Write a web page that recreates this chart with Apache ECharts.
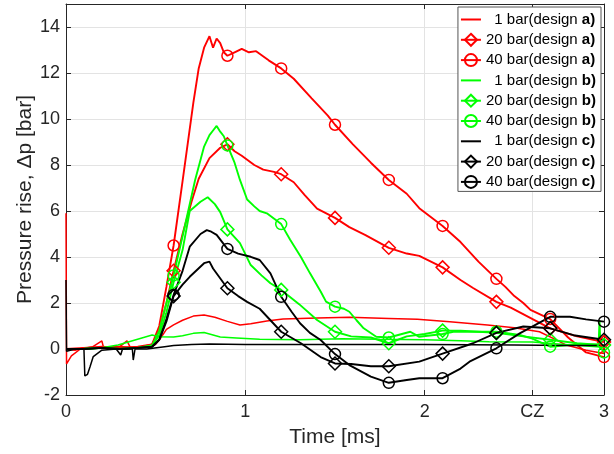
<!DOCTYPE html>
<html>
<head>
<meta charset="utf-8">
<script src="https://cdn.jsdelivr.net/npm/echarts@6/dist/echarts.min.js"></script>
<style>html,body{margin:0;padding:0;background:#fff}#c{width:614px;height:454px}</style>
</head>
<body>
<div id="c"></div>
<script>
// ---- data (time in ms, pressure rise in bar) ----
const markerTimes = [0.6, 0.9, 1.2, 1.5, 1.8, 2.1, 2.4, 2.7, 3.0];
const xTickValues = [0, 1, 2, 2.6, 3];
const xTickLabels = ['0', '1', '2', 'CZ', '3'];
const yTickValues = [-2, 0, 2, 4, 6, 8, 10, 12, 14];

const seriesNames = [
  '1 bar(design a)', '20 bar(design a)', '40 bar(design a)',
  '1 bar(design b)', '20 bar(design b)', '40 bar(design b)',
  '1 bar(design c)', '20 bar(design c)', '40 bar(design c)'
];

const a1 = [[0,5.9],[0.003,-0.65],[0.03,-0.3],[0.08,0.0],[0.15,0.1],[0.2,0.35],[0.21,0.05],[0.3,0.1],[0.34,0.35],[0.36,0.05],[0.45,0.1],[0.5,0.2],[0.53,0.5],[0.56,0.85],[0.6,1.05],[0.65,1.25],[0.71,1.43],[0.77,1.48],[0.83,1.38],[0.9,1.2],[0.97,1.04],[1.03,1.1],[1.12,1.22],[1.21,1.3],[1.4,1.35],[1.58,1.38],[1.8,1.33],[1.96,1.29],[2.14,1.19],[2.35,1.04],[2.5,0.92],[2.64,0.75],[2.72,0.45],[2.79,0.17],[2.9,-0.05],[3.0,-0.2]];
const a20 = [[0,0],[0.1,0.05],[0.2,0.05],[0.3,0.1],[0.4,0.05],[0.48,0.2],[0.52,0.8],[0.56,2.0],[0.6,3.4],[0.65,5.0],[0.7,6.4],[0.74,7.4],[0.8,8.3],[0.86,8.75],[0.9,8.9],[0.94,8.6],[0.98,8.4],[1.05,8.0],[1.1,7.8],[1.16,7.7],[1.2,7.6],[1.27,7.25],[1.33,6.7],[1.4,6.1],[1.5,5.7],[1.58,5.3],[1.67,4.95],[1.8,4.4],[1.9,4.15],[1.97,4.05],[2.1,3.55],[2.2,3.0],[2.27,2.65],[2.4,2.05],[2.48,1.8],[2.7,0.9],[2.85,0.55],[3.0,0.3]];
const a40 = [[0,0],[0.05,-0.05],[0.1,0.05],[0.2,0.1],[0.3,0.05],[0.4,0.1],[0.48,0.2],[0.52,1.0],[0.56,2.7],[0.6,4.5],[0.65,7.3],[0.71,10.7],[0.74,12.2],[0.77,13.1],[0.8,13.6],[0.82,13.1],[0.84,13.5],[0.86,13.3],[0.88,12.9],[0.9,12.75],[0.94,12.9],[0.98,13.05],[1.02,12.9],[1.06,12.95],[1.13,12.55],[1.2,12.2],[1.27,11.75],[1.37,10.9],[1.46,10.15],[1.5,9.75],[1.6,8.9],[1.7,8.1],[1.8,7.35],[1.9,6.75],[1.97,6.12],[2.1,5.35],[2.2,4.65],[2.3,3.8],[2.4,3.05],[2.45,2.7],[2.5,2.3],[2.55,2.0],[2.59,1.7],[2.7,1.3],[2.8,0.5],[2.9,-0.15],[3.0,-0.35]];

const b1 = [[0,0.0],[0.1,0.02],[0.2,0.05],[0.29,0.17],[0.48,0.61],[0.52,0.53],[0.6,0.52],[0.65,0.58],[0.71,0.68],[0.77,0.72],[0.86,0.52],[0.95,0.48],[1.08,0.42],[1.3,0.4],[1.54,0.45],[1.75,0.42],[2.0,0.4],[2.2,0.36],[2.36,0.32],[2.6,0.3],[2.8,0.18],[3.0,0.08]];
const b20 = [[0,0],[0.1,0.0],[0.2,0.05],[0.3,0.0],[0.4,0.05],[0.48,0.15],[0.52,0.6],[0.56,1.6],[0.6,2.9],[0.65,4.3],[0.69,6.0],[0.75,6.4],[0.79,6.6],[0.83,6.3],[0.86,5.95],[0.9,5.2],[0.97,4.6],[1.03,3.65],[1.09,3.2],[1.14,2.86],[1.2,2.57],[1.3,1.95],[1.4,1.26],[1.5,0.75],[1.59,0.55],[1.7,0.5],[1.8,0.25],[1.9,0.55],[2.0,0.65],[2.1,0.8],[2.2,0.8],[2.3,0.75],[2.4,0.7],[2.55,0.55],[2.7,0.4],[2.85,0.25],[3.0,0.17]];
const b40 = [[0,0],[0.1,0.0],[0.2,0.05],[0.3,0.0],[0.4,0.05],[0.48,0.15],[0.52,0.8],[0.56,2.0],[0.6,3.2],[0.65,4.9],[0.72,7.35],[0.77,8.8],[0.8,9.3],[0.82,9.5],[0.84,9.7],[0.86,9.45],[0.88,9.25],[0.9,8.85],[0.94,8.1],[0.97,7.35],[1.01,6.5],[1.05,6.2],[1.08,6.0],[1.12,5.9],[1.2,5.43],[1.25,4.75],[1.31,4.0],[1.36,3.3],[1.42,2.5],[1.45,2.06],[1.5,1.84],[1.55,1.75],[1.58,1.62],[1.62,1.25],[1.66,0.9],[1.73,0.53],[1.8,0.5],[1.92,0.75],[1.97,0.53],[2.1,0.65],[2.16,0.75],[2.3,0.75],[2.4,0.75],[2.53,0.61],[2.6,0.45],[2.7,0.1],[2.85,0.2],[2.97,0.2],[2.975,1.25],[2.98,0.1],[3.0,-0.15]];

const c1 = [[0,3.0],[0.003,-0.1],[0.05,0.0],[0.1,0.0],[0.105,-1.17],[0.12,-1.1],[0.134,-0.77],[0.152,-0.33],[0.2,-0.05],[0.28,0.0],[0.305,-0.26],[0.315,0.0],[0.37,0.0],[0.375,-0.48],[0.385,0.0],[0.45,0.0],[0.55,0.1],[0.6,0.15],[0.7,0.2],[0.8,0.22],[1.0,0.2],[1.5,0.2],[2.0,0.2],[2.5,0.17],[2.8,0.15],[3.0,0.15]];
const c20 = [[0,0],[0.1,0.0],[0.2,0.05],[0.3,0.0],[0.4,0.05],[0.48,0.1],[0.52,0.4],[0.56,1.2],[0.6,2.3],[0.65,2.8],[0.69,3.14],[0.77,3.73],[0.8,3.8],[0.82,3.5],[0.9,2.64],[0.96,2.3],[1.01,2.05],[1.08,1.75],[1.2,0.75],[1.31,0.25],[1.42,-0.35],[1.5,-0.63],[1.59,-0.65],[1.7,-0.75],[1.8,-0.75],[1.97,-0.55],[2.1,-0.2],[2.27,0.25],[2.4,0.7],[2.55,0.98],[2.7,0.9],[2.83,0.6],[3.0,0.4]];
const c40 = [[0,0],[0.1,0.0],[0.2,0.05],[0.3,0.0],[0.4,0.05],[0.48,0.1],[0.52,0.4],[0.56,1.3],[0.6,2.35],[0.65,3.4],[0.69,4.45],[0.75,5.0],[0.785,5.17],[0.81,5.1],[0.84,4.96],[0.9,4.35],[0.96,4.15],[1.03,4.01],[1.08,3.87],[1.14,3.29],[1.2,2.27],[1.26,1.6],[1.305,1.12],[1.36,0.7],[1.42,0.39],[1.5,-0.22],[1.58,-0.7],[1.7,-1.2],[1.8,-1.47],[1.9,-1.35],[1.97,-1.27],[2.1,-1.27],[2.2,-0.85],[2.25,-0.55],[2.4,0.03],[2.53,0.68],[2.7,1.4],[2.81,1.4],[2.9,1.29],[3.0,1.19]];

const seriesData = [a1, a20, a40, b1, b20, b40, c1, c20, c40];
const seriesColors = ['#ff0000','#ff0000','#ff0000','#00ff00','#00ff00','#00ff00','#000000','#000000','#000000'];
const seriesSymbols = ['none','diamond','circle','none','diamond','circle','none','diamond','circle'];

// ---- chart ----
const FONT = 'Liberation Sans, Arial, Helvetica, sans-serif';
const AX = '#262626';

function isMarker(t) { return markerTimes.some(m => Math.abs(m - t) < 1e-9); }

const series = seriesData.map((arr, i) => {
  const sym = seriesSymbols[i];
  const col = seriesColors[i];
  const hasSym = sym !== 'none';
  return {
    name: seriesNames[i],
    type: 'line',
    xAxisIndex: 0, yAxisIndex: 0,
    symbol: sym,
    symbolSize: sym === 'diamond' ? 13 : 11,
    showSymbol: hasSym,
    showAllSymbol: true,
    animation: false,
    lineStyle: { color: col, width: hasSym ? 1.9 : 1.5 },
    itemStyle: hasSym
      ? { color: 'rgba(0,0,0,0)', borderColor: col, borderWidth: 1.5 }
      : { color: 'rgba(0,0,0,0)', borderColor: 'rgba(0,0,0,0)', borderWidth: 0 },
    emphasis: { disabled: true },
    data: arr.map(p => (hasSym && isMarker(p[0])) ? { value: p } : { value: p, symbol: 'none' })
  };
});

const chart = echarts.init(document.getElementById('c'), null, { renderer: 'canvas' });
chart.setOption({
  animation: false,
  backgroundColor: '#ffffff',
  grid: { left: 66, right: 10, top: 4, bottom: 59, containLabel: false },
  xAxis: [{
    type: 'value', min: 0, max: 3, position: 'bottom',
    name: 'Time [ms]', nameLocation: 'middle', nameGap: 32, nameMoveOverlap: false,
    nameTextStyle: { fontFamily: FONT, fontSize: 21, color: AX },
    axisLine: { show: true, onZero: false, lineStyle: { color: AX, width: 1 } },
    axisTick: { show: true, inside: true, length: 5, customValues: xTickValues, lineStyle: { color: AX } },
    axisLabel: { customValues: xTickValues, margin: 8, fontFamily: FONT, fontSize: 18, color: AX,
      formatter: v => { const k = xTickValues.findIndex(x => Math.abs(x - v) < 1e-9); return k >= 0 ? xTickLabels[k] : ''; } },
    splitLine: { show: true, lineStyle: { color: '#e3e3e3', width: 1 } }
  }, {
    type: 'value', min: 0, max: 3, position: 'top',
    axisLine: { show: true, onZero: false, lineStyle: { color: AX, width: 1 } },
    axisTick: { show: true, inside: true, length: 5, customValues: xTickValues, lineStyle: { color: AX } },
    axisLabel: { show: false, customValues: xTickValues },
    splitLine: { show: false }
  }],
  yAxis: [{
    type: 'value', min: -2, max: 15, position: 'left',
    name: 'Pressure rise, \u0394p [bar]', nameLocation: 'middle', nameGap: 30, nameMoveOverlap: false,
    nameTextStyle: { fontFamily: FONT, fontSize: 21, color: AX },
    axisLine: { show: true, onZero: false, lineStyle: { color: AX, width: 1 } },
    axisTick: { show: true, inside: true, length: 5, customValues: yTickValues, lineStyle: { color: AX } },
    axisLabel: { customValues: yTickValues, margin: 6, fontFamily: FONT, fontSize: 18, color: AX },
    splitLine: { show: true, lineStyle: { color: '#e3e3e3', width: 1 } }
  }, {
    type: 'value', min: -2, max: 15, position: 'right',
    axisLine: { show: true, onZero: false, lineStyle: { color: AX, width: 1 } },
    axisTick: { show: true, inside: true, length: 5, customValues: yTickValues, lineStyle: { color: AX } },
    axisLabel: { show: false, customValues: yTickValues },
    splitLine: { show: false }
  }],
  legend: {
    orient: 'vertical', right: 13, top: 7,
    backgroundColor: '#ffffff', borderColor: '#555555', borderWidth: 1,
    padding: [5, 5, 2, 2],
    itemWidth: 20, itemHeight: 15, itemGap: 5.3,
    align: 'left',
    selectedMode: false,
    data: seriesNames,
    formatter: name => {
      const m = name.match(/^(.*design )(\S\))$/);
      const pad = name.startsWith('1 ') ? '  ' : '';
      return pad + '{n|' + m[1] + '}{b|' + m[2] + '}';
    },
    textStyle: {
      fontFamily: FONT, fontSize: 15, color: '#000',
      rich: {
        n: { fontFamily: FONT, fontSize: 15, color: '#000' },
        b: { fontFamily: FONT, fontSize: 15, color: '#000', fontWeight: 'bold' }
      }
    }
  },
  series: series
});
</script>
</body>
</html>
